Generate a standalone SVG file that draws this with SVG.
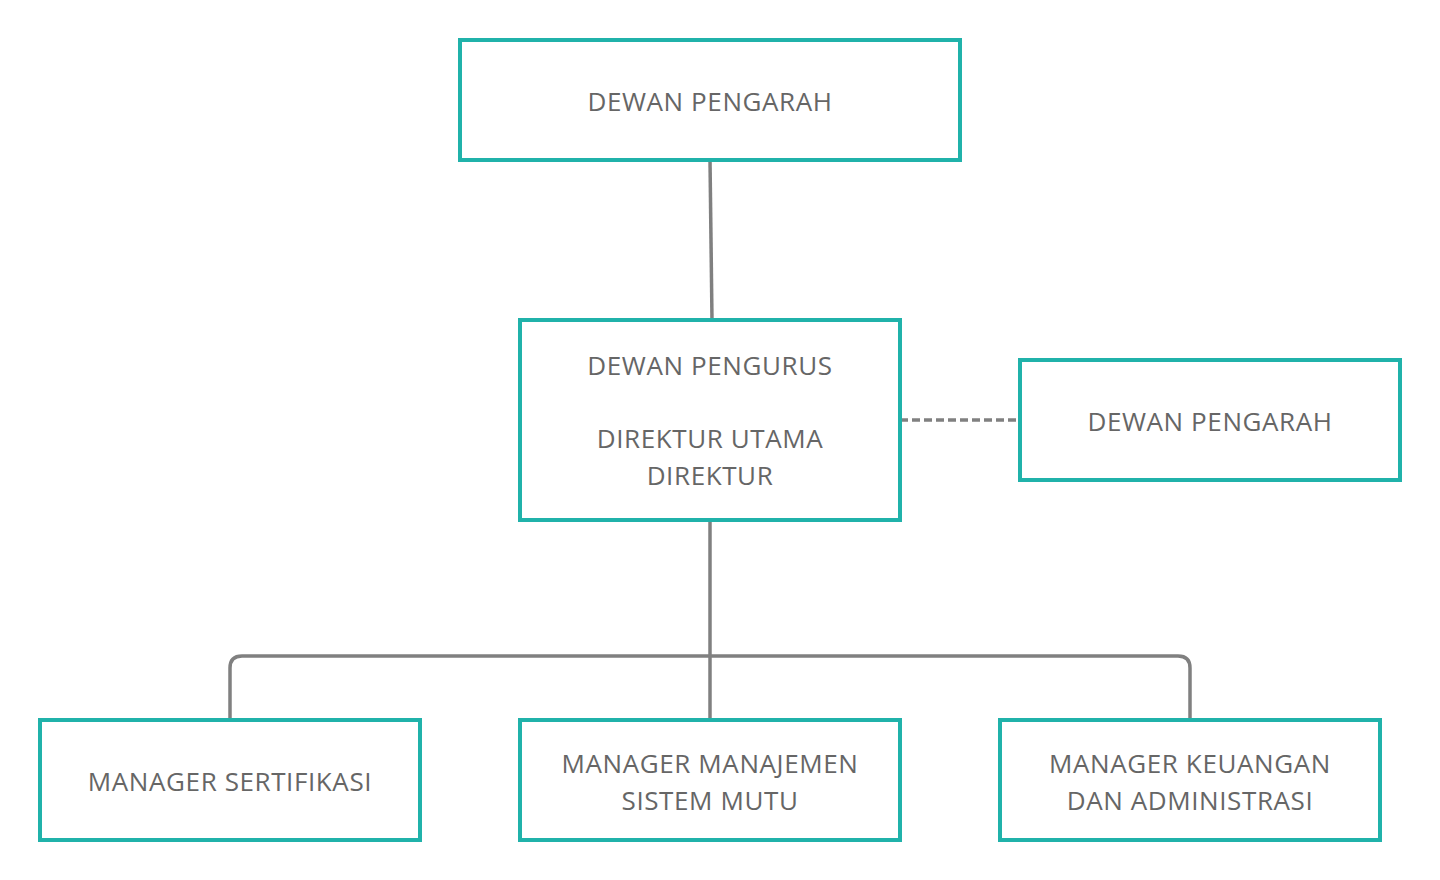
<svg xmlns="http://www.w3.org/2000/svg" width="1440" height="880" viewBox="0 0 1440 880">
<style>
.box{fill:#fff;stroke:#20B2AA;stroke-width:4}
.t{font-family:"Open Sans",sans-serif;font-size:26px;letter-spacing:0.6px;fill:#666;text-anchor:middle}
.c{fill:none;stroke:#808080;stroke-width:3.5}
</style>
<rect width="1440" height="880" fill="#fff"/>
<g id="connectors">
<path class="c" d="M710 160 L712 320"/>
<path class="c" d="M710 520 L710 720"/>
<path class="c" d="M230 720 L230 668 Q230 656 242 656 L1178 656 Q1190 656 1190 668 L1190 720"/>
<path class="c" d="M900 420 L1020 420" stroke-dasharray="8,4" stroke-width="3"/>
</g>
<g id="n1"><rect class="box" x="460" y="40" width="500" height="120"/><text class="t" x="710" y="111">DEWAN PENGARAH</text></g>
<g id="n2"><rect class="box" x="520" y="320" width="380" height="200"/><text class="t" x="710" y="375">DEWAN PENGURUS</text><text class="t" x="710" y="448">DIREKTUR UTAMA</text><text class="t" x="710" y="485">DIREKTUR</text></g>
<g id="n3"><rect class="box" x="1020" y="360" width="380" height="120"/><text class="t" x="1210" y="431">DEWAN PENGARAH</text></g>
<g id="n4"><rect class="box" x="40" y="720" width="380" height="120"/><text class="t" x="230" y="791">MANAGER SERTIFIKASI</text></g>
<g id="n5"><rect class="box" x="520" y="720" width="380" height="120"/><text class="t" x="710" y="773">MANAGER MANAJEMEN</text><text class="t" x="710" y="810">SISTEM MUTU</text></g>
<g id="n6"><rect class="box" x="1000" y="720" width="380" height="120"/><text class="t" x="1190" y="773">MANAGER KEUANGAN</text><text class="t" x="1190" y="810">DAN ADMINISTRASI</text></g>
</svg>
